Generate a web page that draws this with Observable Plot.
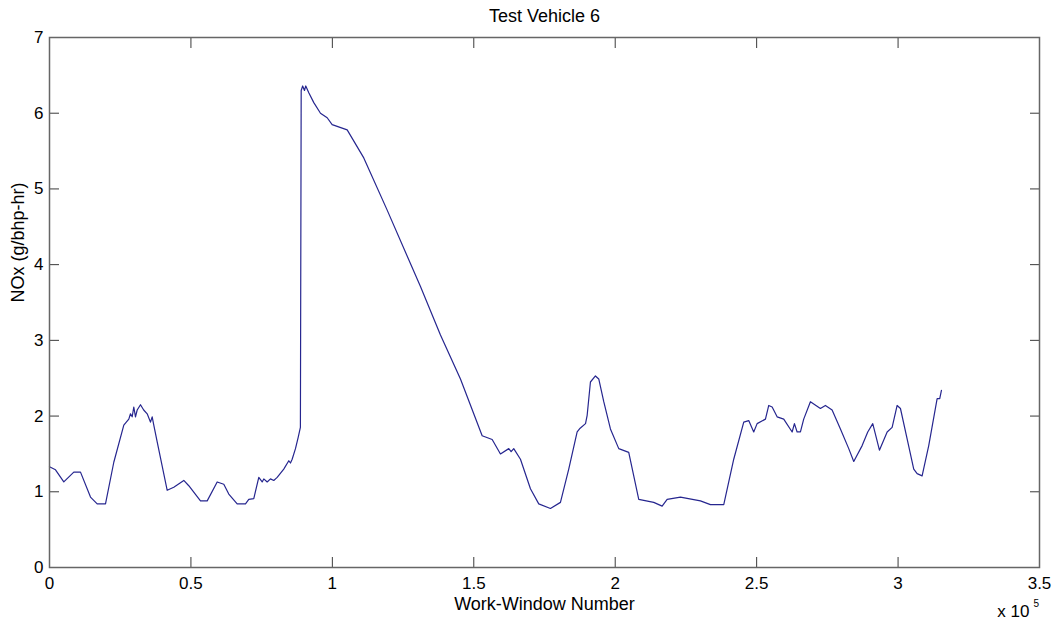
<!DOCTYPE html>
<html>
<head>
<meta charset="utf-8">
<script src="https://cdn.jsdelivr.net/npm/d3@7"></script>
<script src="https://cdn.jsdelivr.net/npm/@observablehq/plot@0.6"></script>
<style>
  html, body { margin: 0; padding: 0; background: #fff; }
</style>
</head>
<body>
<div id="chart"></div>
<script>
const title = "Test Vehicle 6";
const xLabel = "Work-Window Number";
const yLabel = "NOx (g/bhp-hr)";
const xExponentBase = "x 10";
const xExponent = "5";

const windowNumber = [
  0, 2121, 5055, 8590, 10960, 14490, 16860, 19800, 22730, 26270,
  28040, 28630, 29230, 29800, 30400, 31000, 32170, 33300, 34540, 35700,
  36300, 36870, 38070, 41610, 43940, 47480, 49240, 53380, 55750, 59280,
  61620, 63380, 66350, 69290, 70450, 72220, 73990, 75190, 75760, 76960,
  78120, 79290, 80490, 82820, 84600, 85190, 85790, 86960, 87920, 88700,
  88980, 89500, 90140, 90600, 91670, 93440, 95800, 98170, 99930, 105240,
  111110, 119380, 131150, 138220, 145290, 152960, 156500, 159430, 162370, 163200,
  164130, 166500, 170030, 172970, 177100, 180640, 183570, 186540, 187600, 189500,
  190080, 191240, 193010, 194180, 195950, 198310, 201250, 204780, 208320, 213620,
  216590, 218360, 223060, 230130, 233660, 238370, 241900, 245440, 247200, 248970,
  250170, 253110, 254280, 255480, 257240, 259580, 262550, 263360, 264310, 265480,
  266640, 269010, 272540, 274310, 276680, 279620, 282560, 284330, 287300, 289280,
  291050, 293410, 296140, 297900, 299670, 300840, 303200, 305540, 306740, 308500,
  310840, 313810, 314730, 315330
];
const noxValues = [
  1.33, 1.29, 1.13, 1.26, 1.26, 0.93, 0.84, 0.84, 1.39, 1.88,
  1.96, 2.03, 1.99, 2.12, 1.99, 2.08, 2.15, 2.08, 2.03, 1.92,
  1.99, 1.88, 1.66, 1.02, 1.06, 1.15, 1.08, 0.88, 0.88, 1.13,
  1.10, 0.97, 0.84, 0.84, 0.90, 0.91, 1.19, 1.13, 1.17, 1.13,
  1.17, 1.15, 1.19, 1.30, 1.41, 1.38, 1.43, 1.57, 1.72, 1.85,
  6.30, 6.36, 6.30, 6.36, 6.27, 6.14, 6.00, 5.94, 5.85, 5.78,
  5.41, 4.72, 3.71, 3.07, 2.49, 1.74, 1.69, 1.50, 1.57, 1.53,
  1.57, 1.43, 1.04, 0.84, 0.78, 0.86, 1.30, 1.79, 1.84, 1.90,
  2.01, 2.45, 2.53, 2.49, 2.19, 1.83, 1.57, 1.52, 0.90, 0.86,
  0.81, 0.90, 0.93, 0.88, 0.83, 0.83, 1.43, 1.92, 1.94, 1.79,
  1.90, 1.96, 2.14, 2.12, 1.99, 1.96, 1.79, 1.90, 1.79, 1.79,
  1.96, 2.19, 2.10, 2.14, 2.08, 1.83, 1.57, 1.40, 1.61, 1.79,
  1.90, 1.55, 1.79, 1.85, 2.14, 2.10, 1.70, 1.30, 1.24, 1.21,
  1.61, 2.23, 2.23, 2.34
];

const xTicks = [0, 50000, 100000, 150000, 200000, 250000, 300000, 350000];
const yTicks = [0, 1, 2, 3, 4, 5, 6, 7];

const data = windowNumber.map((w, i) => ({ w, v: noxValues[i] }));

const frameColor = "#666666";
const tickColor = "#3a3a3a";
const lineColor = "#26268f";
const font = "'Liberation Sans', Arial, Helvetica, sans-serif";

const chart = Plot.plot({
  width: 1058,
  height: 626,
  marginLeft: 49,
  marginRight: 19,
  marginTop: 37,
  marginBottom: 59,
  style: { fontFamily: font, fontSize: "17px", color: "#000", background: "#fff", overflow: "visible" },
  x: { domain: [0, 350000], axis: null },
  y: { domain: [0, 7], axis: null },
  marks: [
    Plot.line(data, { x: "w", y: "v", stroke: lineColor, strokeWidth: 1.2 }),
    // inward ticks on all four sides
    Plot.axisX(xTicks, { anchor: "bottom", tickSize: 10, dy: -10, tickFormat: () => "", label: null, stroke: tickColor }),
    Plot.axisX(xTicks, { anchor: "top", tickSize: 10, dy: 10, tickFormat: () => "", label: null, stroke: tickColor }),
    Plot.axisY(yTicks, { anchor: "left", tickSize: 10, dx: 10, tickFormat: () => "", label: null, stroke: tickColor }),
    Plot.axisY(yTicks, { anchor: "right", tickSize: 10, dx: -10, tickFormat: () => "", label: null, stroke: tickColor }),
    // tick labels
    Plot.axisX(xTicks, { anchor: "bottom", tickSize: 0, tickPadding: 9, tickFormat: d => String(d / 1e5), label: null, fontSize: 17, fill: "#000" }),
    Plot.axisY(yTicks, { anchor: "left", tickSize: 0, tickPadding: 6, tickFormat: d => String(d), label: null, fontSize: 17, fill: "#000" }),
    Plot.frame({ stroke: frameColor, strokeWidth: 1.5 }),
    // title and axis labels
    Plot.text([title], { text: d => d, frameAnchor: "top", dy: -21, lineAnchor: "middle", fontSize: 18, fill: "#000" }),
    Plot.text([xLabel], { text: d => d, frameAnchor: "bottom", dy: 37, lineAnchor: "middle", fontSize: 18, fill: "#000" }),
    Plot.text([yLabel], { text: d => d, frameAnchor: "left", dx: -31, rotate: -90, lineAnchor: "middle", fontSize: 18, fill: "#000" }),
    Plot.text([xExponentBase], { text: d => d, frameAnchor: "bottom-right", dx: -10, dy: 44, textAnchor: "end", lineAnchor: "middle", fontSize: 17, fill: "#000" }),
    Plot.text([xExponent], { text: d => d, frameAnchor: "bottom-right", dx: -6, dy: 36, textAnchor: "start", lineAnchor: "middle", fontSize: 10, fill: "#000" })
  ]
});
document.getElementById("chart").appendChild(chart);
</script>
</body>
</html>
